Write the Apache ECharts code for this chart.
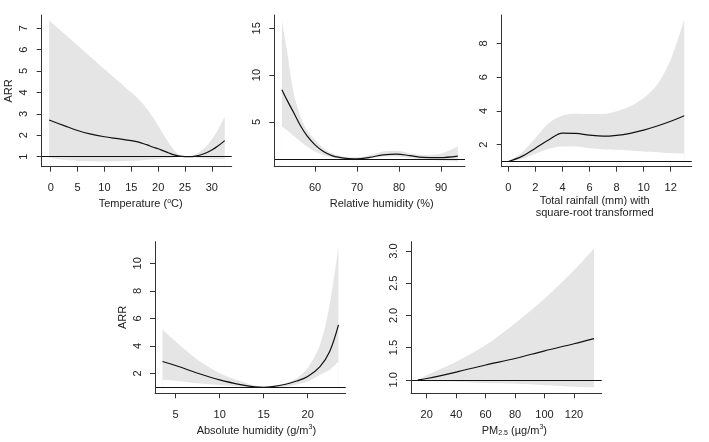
<!DOCTYPE html>
<html><head><meta charset="utf-8">
<script src="https://cdn.jsdelivr.net/npm/echarts@6/dist/echarts.min.js"></script>
<style>html,body{margin:0;padding:0;background:#fff}#c{width:709px;height:442px}</style>
</head><body><div id="c"></div>
<script>
// Panel 1: Temperature
const tempX    = [-0.3, 2.5, 5, 7.5, 10, 12.5, 15, 16, 17, 18, 19, 20, 21, 22, 23, 24, 25, 26, 27, 28, 29, 30, 31, 32.4];
const tempFit  = [2.71, 2.45, 2.22, 2.05, 1.93, 1.84, 1.75, 1.70, 1.63, 1.55, 1.45, 1.37, 1.27, 1.17, 1.08, 1.02, 1.0, 1.0, 1.03, 1.09, 1.18, 1.31, 1.47, 1.75];
const tempHigh = [7.36, 6.75, 6.2, 5.65, 5.1, 4.55, 4.0, 3.78, 3.52, 3.2, 2.85, 2.45, 2.03, 1.64, 1.3, 1.08, 1.01, 1.03, 1.12, 1.28, 1.5, 1.8, 2.2, 2.85];
const tempLow  = [0.95, 0.85, 0.8, 0.78, 0.77, 0.78, 0.8, 0.81, 0.83, 0.85, 0.87, 0.89, 0.91, 0.93, 0.96, 0.99, 1.0, 0.99, 0.96, 0.93, 0.91, 0.89, 0.88, 0.88];
const tempTicks = [0, 5, 10, 15, 20, 25, 30];
const tempYTicks = [1, 2, 3, 4, 5, 6, 7];

// Panel 2: Relative humidity
const rhX    = [52.1, 53.3, 54.9, 56.5, 58.1, 60, 62, 64, 66, 68, 70, 73, 76.2, 79.4, 82.6, 85.7, 89.7, 94];
const rhFit  = [8.43, 7.35, 6.0, 4.6, 3.5, 2.54, 1.82, 1.39, 1.18, 1.07, 1.03, 1.2, 1.46, 1.55, 1.38, 1.2, 1.17, 1.33];
const rhHigh = [15.9, 12.7, 8.1, 5.6, 4.1, 3.07, 2.18, 1.64, 1.36, 1.21, 1.2, 1.43, 1.82, 1.9, 1.64, 1.46, 1.57, 2.36];
const rhLow  = [4.5, 4.1, 3.5, 2.9, 2.36, 1.82, 1.43, 1.18, 1.04, 1.0, 0.93, 1.07, 1.29, 1.29, 1.14, 1.0, 0.86, 0.75];
const rhTicks = [60, 70, 80, 90];
const rhYTicks = [5, 10, 15];

// Panel 3: Total rainfall (sqrt)
const rainX    = [0, 1, 2, 3, 4, 5, 6, 7, 8, 9, 10, 11, 12, 13];
const rainFit  = [1.0, 1.3, 1.79, 2.29, 2.68, 2.66, 2.56, 2.5, 2.55, 2.67, 2.86, 3.1, 3.38, 3.71];
const rainHigh = [1.0, 1.53, 2.39, 3.28, 3.73, 3.83, 3.81, 3.81, 3.97, 4.27, 4.76, 5.55, 7.04, 9.42];
const rainLow  = [1.0, 1.14, 1.46, 1.75, 1.89, 1.89, 1.79, 1.73, 1.69, 1.65, 1.59, 1.55, 1.5, 1.46];
const rainTicks = [0, 2, 4, 6, 8, 10, 12];
const rainYTicks = [2, 4, 6, 8];

// Panel 4: Absolute humidity
const ahX    = [3.5, 5, 7.5, 10, 12.5, 14, 15, 16, 17.5, 18.75, 20, 21.4, 22.5, 23.5];
const ahFit  = [2.87, 2.58, 2.02, 1.53, 1.17, 1.02, 1.0, 1.05, 1.22, 1.45, 1.78, 2.5, 3.6, 5.53];
const ahHigh = [5.17, 4.32, 2.99, 2.02, 1.41, 1.12, 1.05, 1.1, 1.29, 1.65, 2.38, 4.08, 6.99, 11.23];
const ahLow  = [1.53, 1.48, 1.29, 1.17, 1.05, 1.0, 1.0, 1.01, 1.05, 1.2, 1.41, 1.9, 2.26, 2.87];
const ahTicks = [5, 10, 15, 20];
const ahYTicks = [2, 4, 6, 8, 10];

// Panel 5: PM2.5
const pmX    = [14, 20, 40, 60, 80, 100, 120, 133.6];
const pmFit  = [1.0, 1.02, 1.12, 1.23, 1.33, 1.45, 1.56, 1.64];
const pmHigh = [1.0, 1.07, 1.28, 1.54, 1.88, 2.26, 2.70, 3.04];
const pmLow  = [1.0, 0.98, 0.97, 0.95, 0.94, 0.92, 0.89, 0.88];
const pmTicks = [20, 40, 60, 80, 100, 120];
const pmYTicks = [1.0, 1.5, 2.0, 2.5, 3.0];

const FONT = 'Liberation Sans, Arial, sans-serif';
const BAND = '#e5e5e5';
const AXC = '#333';

const panels = [
  {grid:{left:41.7, top:15, width:190, height:151.7}, x:[-1.68,33.7], y:[0.53,7.62],
   xt:tempTicks, yt:tempYTicks, X:tempX, F:tempFit, H:tempHigh, L:tempLow,
   xname:'Temperature ({sup|o}C)', yname:'ARR', nameGap:31, shift:4},
  {grid:{left:274.3, top:15, width:190.7, height:151.7}, x:[50.3,95.7], y:[0.2,16.43],
   xt:rhTicks, yt:rhYTicks, X:rhX, F:rhFit, H:rhHigh, L:rhLow,
   xname:'Relative humidity (%)', yname:'', nameGap:31, shift:12},
  {grid:{left:501.7, top:15, width:190, height:151.7}, x:[-0.49,13.55], y:[0.69,9.68],
   xt:rainTicks, yt:rainYTicks, X:rainX, F:rainFit, H:rainHigh, L:rainLow,
   xname:'Total rainfall (mm) with\nsquare-root transformed', yname:'', nameGap:25, shift:-2},
  {grid:{left:155, top:241.7, width:190.7, height:151.6}, x:[2.65,24.32], y:[0.56,11.57],
   xt:ahTicks, yt:ahYTicks, X:ahX, F:ahFit, H:ahHigh, L:ahLow,
   xname:'Absolute humidity (g/m{sup|3})', yname:'ARR', nameGap:31, shift:6},
  {grid:{left:411, top:241.7, width:190.7, height:151.6}, x:[9.34,138.8], y:[0.79,3.145],
   xt:pmTicks, yt:pmYTicks, X:pmX, F:pmFit, H:pmHigh, L:pmLow,
   xname:'PM{sub|2.5} (\u00b5g/m{sup|3})', yname:'', yfmt:v=>v.toFixed(1), nameGap:31, shift:8}
];

const zip = (xs, ys) => xs.map((x, i) => [x, ys[i]]);
const rich = {
  sup: {fontSize: 7, fontFamily: FONT, color: '#222', padding: [0, 0, 6, 0]},
  sub: {fontSize: 7, fontFamily: FONT, color: '#222', padding: [5, 0, 0, 0]}
};

const option = {animation:false, backgroundColor:'#fff', grid:[], xAxis:[], yAxis:[], series:[]};
panels.forEach((p, i) => {
  option.grid.push(Object.assign({containLabel:false}, p.grid));
  const pad = p.shift >= 0 ? [0, 0, 0, 2 * p.shift] : [0, -2 * p.shift, 0, 0];
  option.xAxis.push({
    type:'value', gridIndex:i, min:p.x[0], max:p.x[1], z:10,
    axisLine:{show:true, onZero:false, lineStyle:{color:AXC, width:1}},
    axisTick:{show:true, length:5, customValues:p.xt, lineStyle:{color:AXC}},
    axisLabel:{customValues:p.xt, margin:16, fontSize:11, fontFamily:FONT, color:'#222'},
    splitLine:{show:false},
    name:p.xname, nameLocation:'middle', nameGap:p.nameGap,
    nameTextStyle:{fontSize:11, fontFamily:FONT, color:'#222', lineHeight:12.5, rich:rich, padding:pad}
  });
  option.yAxis.push({
    type:'value', gridIndex:i, min:p.y[0], max:p.y[1], z:10,
    axisLine:{show:true, onZero:false, lineStyle:{color:AXC, width:1}},
    axisTick:{show:true, length:5, customValues:p.yt, lineStyle:{color:AXC}},
    axisLabel:{customValues:p.yt, rotate:90, margin:12, fontSize:11, fontFamily:FONT, color:'#222',
      formatter: p.yfmt || (v => String(v))},
    splitLine:{show:false},
    name:p.yname, nameLocation:'middle', nameGap:27, nameRotate:90,
    nameTextStyle:{fontSize:11, fontFamily:FONT, color:'#222'}
  });
  option.series.push({
    type:'line', xAxisIndex:i, yAxisIndex:i, data:zip(p.X, p.H), smooth:0.3, showSymbol:false,
    silent:true, z:1, lineStyle:{width:0}, areaStyle:{color:BAND, opacity:1, origin:'start'}
  });
  option.series.push({
    type:'line', xAxisIndex:i, yAxisIndex:i, data:zip(p.X, p.L), smooth:0.3, showSymbol:false,
    silent:true, z:2, lineStyle:{width:0}, areaStyle:{color:'#fff', opacity:1, origin:'start'}
  });
  option.series.push({
    type:'line', xAxisIndex:i, yAxisIndex:i, data:zip(p.X, p.F), smooth:0.35, showSymbol:false,
    silent:true, z:4, lineStyle:{color:'#111', width:1.2},
    markLine:{silent:true, symbol:'none', label:{show:false}, lineStyle:{color:'#111', width:1, type:'solid'},
      data:[{yAxis:1}]}
  });
});

const chart = echarts.init(document.getElementById('c'), null, {renderer:'canvas'});
chart.setOption(option);
</script></body></html>
